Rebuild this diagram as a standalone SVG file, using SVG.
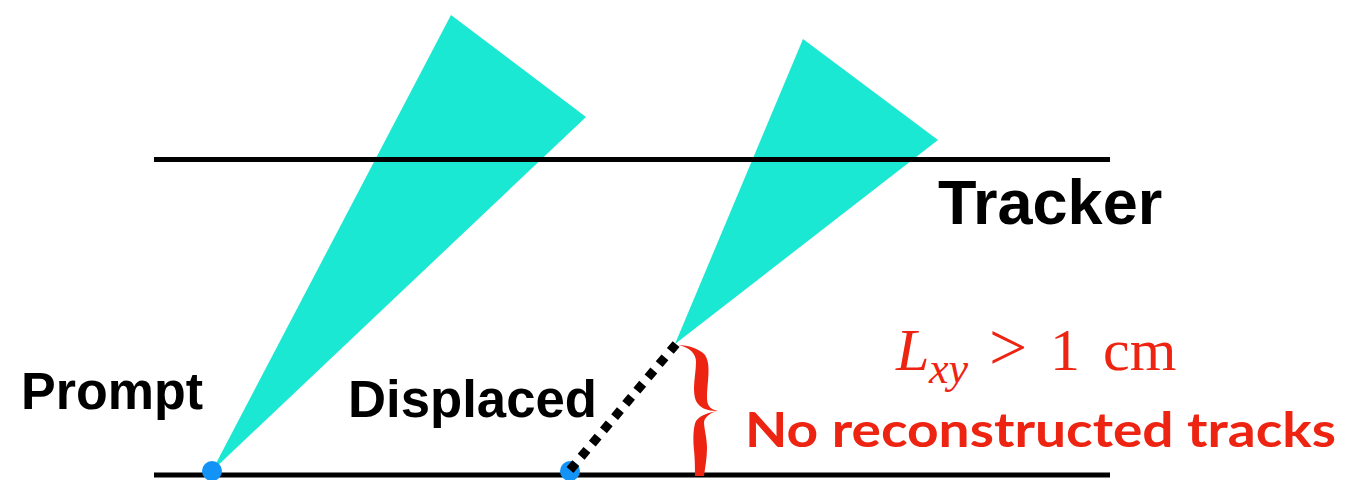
<svg xmlns="http://www.w3.org/2000/svg" width="1348" height="480" viewBox="0 0 1348 480">
<style>
.cone{fill:#1ae8d2;}
.rail{stroke:#000;stroke-width:5;fill:none;}
.vtx{fill:#1393f6;}
.lbl{font-family:"Liberation Sans",Arial,sans-serif;font-weight:bold;fill:#000;}
.red{font-family:Lato,"Open Sans",sans-serif;font-weight:bold;fill:#ee2412;}
.math{font-family:"Liberation Serif","Times New Roman",serif;fill:#ee2412;}
.brace{fill:#ee2412;}
</style>
<rect width="1348" height="480" fill="#fff"/>
<g id="prompt-jet"><polygon class="cone" points="212,471 451,15 586,117"/></g>
<g id="displaced-jet"><polygon class="cone" points="675,344 803,39 938,140"/></g>
<g id="tracker">
<line class="rail" x1="154" y1="159.5" x2="1110" y2="159.5"/>
<text class="lbl" x="938" y="224" font-size="63">Tracker</text>
</g>
<g id="beamline"><line class="rail" x1="154" y1="475" x2="1110" y2="475"/></g>
<g id="prompt-vertex"><circle class="vtx" cx="212" cy="471" r="10"/><text class="lbl" x="21" y="409" font-size="51" textLength="182" lengthAdjust="spacingAndGlyphs">Prompt</text></g>
<g id="displaced-vertex"><circle class="vtx" cx="570" cy="471" r="10"/><text class="lbl" x="348" y="417" font-size="51" textLength="249" lengthAdjust="spacingAndGlyphs">Displaced</text></g>
<g id="connectors">
<line x1="570" y1="470" x2="677" y2="343" stroke="#000" stroke-width="9" stroke-dasharray="9 8.3"/>
</g>
<g id="brace">
<path class="brace" d="M678,345 C688,345 700,349 705,355 C709,361 709,370 708,381 C707,392 706,402 709,406 C711,409 714,410 718,411 C712,411 704,410 700,406 C695,402 694,395 694,388 C694,380 696,370 696,362 C696,354 690,347 678,345 Z"/>
<path class="brace" d="M718,411 C710,412 700,415 696,421 C693,427 693,440 694,450 C695,460 695,470 695,476 L704,476 C705,468 707,458 707,448 C707,438 704,428 704,422 C705,416 712,412 718,411 Z"/>
</g>
<g id="lxy-label">
<text class="math" x="896" y="370" font-size="60" font-style="italic">L</text>
<text class="math" x="929" y="383" font-size="44" font-style="italic">xy</text>
<text class="math" x="989" y="370" font-size="68">&gt;</text>
<text class="math" x="1050" y="370" font-size="60">1</text>
<text class="math" x="1103" y="370" font-size="60">cm</text>
</g>
<g id="no-tracks-label"><text class="red" x="745" y="447" font-size="48" textLength="591" lengthAdjust="spacingAndGlyphs">No reconstructed tracks</text></g>
</svg>
